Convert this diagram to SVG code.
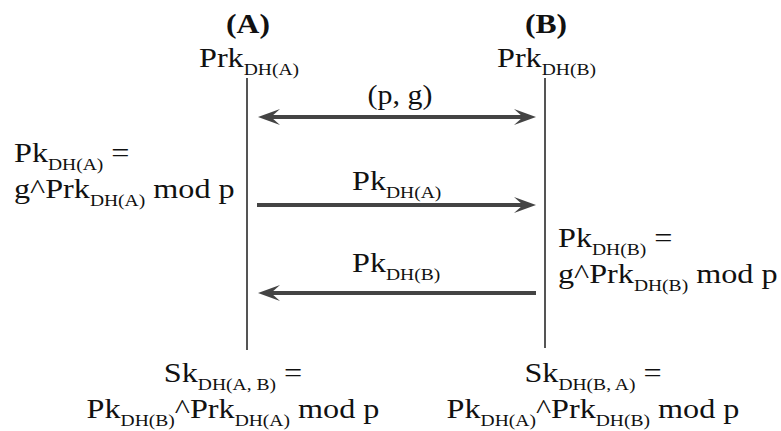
<svg xmlns="http://www.w3.org/2000/svg" width="781" height="431" viewBox="0 0 781 431">
<style>
text{font-family:"Liberation Serif","DejaVu Serif",serif;font-size:28px;fill:#111}
.b{font-weight:bold}
.s{font-size:17px}
.life{stroke:#555;stroke-width:2}
.msg{stroke:#444;stroke-width:4;fill:none}
</style>
<defs>
<marker id="ah" markerUnits="userSpaceOnUse" markerWidth="24" markerHeight="18" refX="12" refY="9" orient="auto-start-reverse">
<path d="M0,1 L22,9 L0,17 L9,9 z" fill="#444"/>
</marker>
</defs>
<rect width="781" height="431" fill="#fff"/>
<g id="partyA">
<text class="b" transform="translate(248,33) scale(1.13,1)" text-anchor="middle">(A)</text>
<text transform="translate(199,67) scale(1.15,1)">Prk<tspan class="s" dy="8">DH(A)</tspan></text>
</g>
<g id="partyB">
<text class="b" transform="translate(546,33) scale(1.13,1)" text-anchor="middle">(B)</text>
<text transform="translate(497,67) scale(1.15,1)">Prk<tspan class="s" dy="8">DH(B)</tspan></text>
</g>
<g id="connectors">
<line class="life" x1="247" y1="78" x2="247" y2="350"/>
<line class="life" x1="545" y1="78" x2="545" y2="348"/>
<line class="msg" x1="268" y1="117" x2="526" y2="117" marker-start="url(#ah)" marker-end="url(#ah)"/>
<line class="msg" x1="257" y1="205" x2="526" y2="205" marker-end="url(#ah)"/>
<line class="msg" x1="536" y1="293" x2="268" y2="293" marker-end="url(#ah)"/>
<text transform="translate(400,104) scale(1.07,1)" text-anchor="middle">(p, g)</text>
<text transform="translate(352,190) scale(1.15,1)">Pk<tspan class="s" dy="8">DH(A)</tspan></text>
<text transform="translate(352,272) scale(1.15,1)">Pk<tspan class="s" dy="8">DH(B)</tspan></text>
</g>
<g id="calcA">
<text transform="translate(14,162) scale(1.15,1)">Pk<tspan class="s" dy="8">DH(A)</tspan><tspan dy="-8"> =</tspan></text>
<text transform="translate(14,198) scale(1.15,1)">g^Prk<tspan class="s" dy="8">DH(A)</tspan><tspan dy="-8"> mod p</tspan></text>
</g>
<g id="calcB">
<text transform="translate(558,247) scale(1.15,1)">Pk<tspan class="s" dy="8">DH(B)</tspan><tspan dy="-8"> =</tspan></text>
<text transform="translate(558,283) scale(1.15,1)">g^Prk<tspan class="s" dy="8">DH(B)</tspan><tspan dy="-8"> mod p</tspan></text>
</g>
<g id="secretA">
<text transform="translate(233,382) scale(1.15,1)" text-anchor="middle">Sk<tspan class="s" dy="8">DH(A, B)</tspan><tspan dy="-8"> =</tspan></text>
<text transform="translate(233,418) scale(1.15,1)" text-anchor="middle">Pk<tspan class="s" dy="8">DH(B)</tspan><tspan dy="-8">^Prk</tspan><tspan class="s" dy="8">DH(A)</tspan><tspan dy="-8"> mod p</tspan></text>
</g>
<g id="secretB">
<text transform="translate(593,382) scale(1.15,1)" text-anchor="middle">Sk<tspan class="s" dy="8">DH(B, A)</tspan><tspan dy="-8"> =</tspan></text>
<text transform="translate(593,418) scale(1.15,1)" text-anchor="middle">Pk<tspan class="s" dy="8">DH(A)</tspan><tspan dy="-8">^Prk</tspan><tspan class="s" dy="8">DH(B)</tspan><tspan dy="-8"> mod p</tspan></text>
</g>
</svg>
